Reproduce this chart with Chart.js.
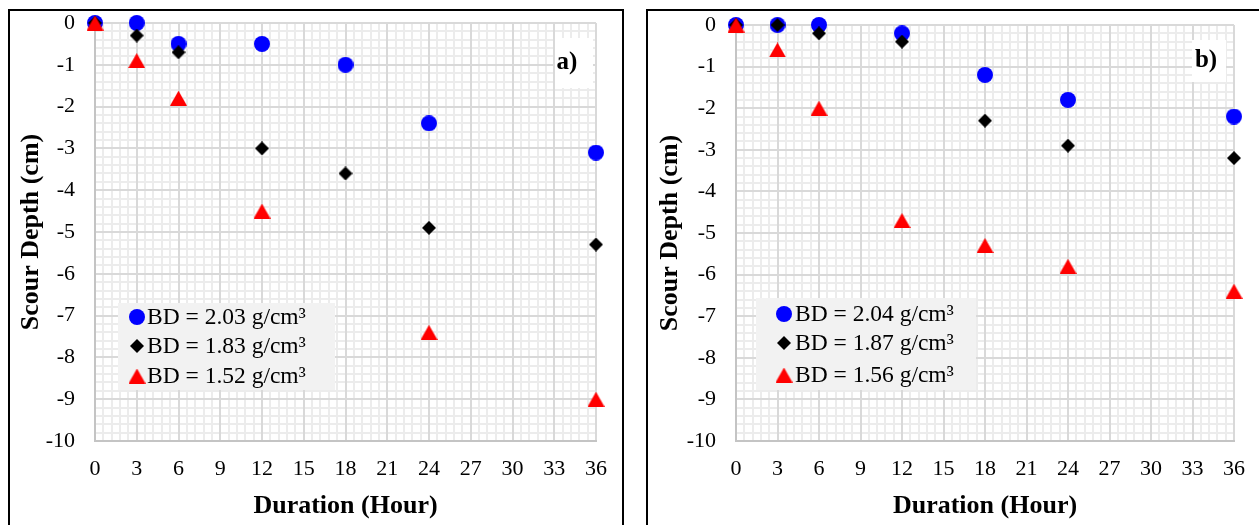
<!DOCTYPE html>
<html><head><meta charset="utf-8">
<script src="https://cdn.jsdelivr.net/npm/chart.js@4/dist/chart.umd.min.js"></script>
<style>
html,body{margin:0;padding:0;background:#fff;width:1259px;height:525px;overflow:hidden;position:relative}
.frame{position:absolute;border:2px solid #000;box-sizing:border-box}
.wrap{position:absolute;top:0;height:525px}
canvas{display:block}
</style></head><body>
<div class="frame" style="left:8px;top:9px;width:616px;height:600px"></div>
<div class="frame" style="left:646px;top:9px;width:700px;height:600px"></div>
<div class="wrap" style="left:0;width:640px"><canvas id="c1" width="640" height="525"></canvas></div>
<div class="wrap" style="left:640px;width:619px"><canvas id="c2" width="619" height="525"></canvas></div>
<script>
// ---- data ----
const xTicks = [0, 3, 6, 9, 12, 15, 18, 21, 24, 27, 30, 33, 36];
const xTickLabels = ['0', '3', '6', '9', '12', '15', '18', '21', '24', '27', '30', '33', '36'];
const yTicks = [-10, -9, -8, -7, -6, -5, -4, -3, -2, -1, 0];
const yTickLabels = ['-10', '-9', '-8', '-7', '-6', '-5', '-4', '-3', '-2', '-1', '0'];

const hours = [0, 3, 6, 12, 18, 24, 36];
const hoursA152 = [0, 3, 6, 12, 24, 36];

const depthA203 = [0, 0, -0.5, -0.5, -1, -2.4, -3.1];
const depthA183 = [0, -0.3, -0.7, -3, -3.6, -4.9, -5.3];
const depthA152 = [0, -0.9, -1.8, -4.5, -7.4, -9];

const depthB204 = [0, 0, 0, -0.2, -1.2, -1.8, -2.2];
const depthB187 = [0, 0, -0.2, -0.4, -2.3, -2.9, -3.2];
const depthB156 = [0, -0.6, -2, -4.7, -5.3, -5.8, -6.4];

const labelsA = ['BD = 2.03 g/cm³', 'BD = 1.83 g/cm³', 'BD = 1.52 g/cm³'];
const labelsB = ['BD = 2.04 g/cm³', 'BD = 1.87 g/cm³', 'BD = 1.56 g/cm³'];

// ---- styling helpers ----
const FONT = "'Liberation Serif', 'Times New Roman', serif";

function markerImage(kind, color) {
  const c = document.createElement('canvas');
  let w, h;
  if (kind === 'circle') { w = 16; h = 16; }
  else if (kind === 'diamond') { w = 14; h = 14; }
  else { w = 17; h = 15; }
  c.width = w; c.height = h;
  const g = c.getContext('2d');
  g.fillStyle = color;
  g.beginPath();
  if (kind === 'circle') g.arc(w / 2, h / 2, w / 2, 0, Math.PI * 2);
  else if (kind === 'diamond') { g.moveTo(w / 2, 0); g.lineTo(w, h / 2); g.lineTo(w / 2, h); g.lineTo(0, h / 2); g.closePath(); }
  else { g.moveTo(w / 2, 0); g.lineTo(w, h); g.lineTo(0, h); g.closePath(); }
  g.fill();
  return c;
}
const mCircle = markerImage('circle', '#0000ff');
const mDiamond = markerImage('diamond', '#000000');
const mTriangle = markerImage('triangle', '#ff0000');

function pts(xs, ys) { return xs.map((x, i) => ({ x: x, y: ys[i] })); }

const minorGrid = {
  id: 'minorGrid',
  beforeDraw(chart) {
    const o = chart.options.plugins.minorGrid;
    const { ctx, chartArea: a, scales: { x, y } } = chart;
    ctx.save();
    ctx.strokeStyle = o.color; ctx.lineWidth = o.width;
    ctx.beginPath();
    for (let i = 0; i < xTicks.length - 1; i++) {
      for (let k = 1; k < o.div; k++) {
        const px = Math.round(x.getPixelForValue(xTicks[i] + (xTicks[i + 1] - xTicks[i]) * k / o.div));
        ctx.moveTo(px, a.top); ctx.lineTo(px, a.bottom);
      }
    }
    for (let i = 0; i < yTicks.length - 1; i++) {
      for (let k = 1; k < o.div; k++) {
        const py = Math.round(y.getPixelForValue(yTicks[i] + (yTicks[i + 1] - yTicks[i]) * k / o.div));
        ctx.moveTo(a.left, py); ctx.lineTo(a.right, py);
      }
    }
    ctx.stroke();
    ctx.restore();
  }
};

const deco = {
  id: 'deco',
  beforeDatasetsDraw(chart) {
    const o = chart.options.plugins.deco;
    const ctx = chart.ctx;
    ctx.save();
    // tag box
    ctx.fillStyle = '#ffffff';
    ctx.fillRect(o.tagBox[0], o.tagBox[1], o.tagBox[2], o.tagBox[3]);
    ctx.fillStyle = '#000';
    ctx.font = "bold 25px " + FONT;
    ctx.textAlign = 'center'; ctx.textBaseline = 'middle';
    ctx.fillText(o.tag, o.tagPos[0], o.tagPos[1]);
    // legend
    const b = o.legendBox;
    ctx.fillStyle = '#f2f2f2';
    ctx.fillRect(b[0], b[1], b[2], b[3]);
    ctx.font = "23.5px " + FONT;
    ctx.textAlign = 'left'; ctx.textBaseline = 'middle';
    ctx.fillStyle = '#000';
    chart.data.datasets.forEach((ds, i) => {
      const img = ds.pointStyle;
      const cy = o.rowsY[i];
      ctx.drawImage(img, o.markerX - img.width / 2, cy - img.height / 2);
      ctx.fillText(ds.label, o.textX, cy + 1);
    });
    ctx.restore();
  }
};

function makeDatasets(labels, xs, ys) {
  const styles = [mCircle, mDiamond, mTriangle];
  const colors = ['#0000ff', '#000000', '#ff0000'];
  return labels.map((lab, i) => ({
    label: lab,
    data: pts(xs[i], ys[i]),
    pointStyle: styles[i],
    backgroundColor: colors[i],
    borderColor: colors[i],
    showLine: false,
    clip: false,
    order: 3 - i
  }));
}

function makeOptions(cfg) {
  return {
    responsive: false,
    animation: false,
    maintainAspectRatio: false,
    layout: { autoPadding: false, padding: { left: 0, top: cfg.top, right: cfg.right, bottom: 0 } },
    scales: {
      x: {
        type: 'linear', min: 0, max: 36,
        afterBuildTicks: s => { s.ticks = xTicks.map(v => ({ value: v })); },
        afterFit: s => { s.height = cfg.xh; s.paddingLeft = 0; s.paddingRight = 0; },
        ticks: {
          callback: v => xTickLabels[xTicks.indexOf(v)],
          font: { family: FONT, size: 22 }, color: '#000', padding: 15,
          maxRotation: 0, autoSkip: false
        },
        grid: { color: '#d9d9d9', lineWidth: 2, drawTicks: false },
        border: { color: '#c4c4c4', width: 2 },
        title: {
          display: true, text: 'Duration (Hour)', color: '#000',
          font: { family: FONT, size: 26, weight: 'bold' },
          padding: { top: 0, bottom: 3 }
        }
      },
      y: {
        type: 'linear', min: -10, max: 0,
        afterBuildTicks: s => { s.ticks = yTicks.map(v => ({ value: v })); },
        afterFit: s => { s.width = cfg.yw; s.paddingTop = 0; s.paddingBottom = 0; },
        ticks: {
          callback: v => yTickLabels[yTicks.indexOf(v)],
          font: { family: FONT, size: 22 }, color: '#000', padding: 20,
          autoSkip: false
        },
        grid: { color: '#d9d9d9', lineWidth: 2, drawTicks: false },
        border: { color: '#c4c4c4', width: 2 },
        title: {
          display: true, text: 'Scour Depth (cm)', color: '#000',
          font: { family: FONT, size: 26, weight: 'bold' },
          padding: { top: cfg.titleX - 15.6, bottom: 0 }
        }
      }
    },
    plugins: {
      legend: { display: false },
      tooltip: { enabled: false },
      minorGrid: { color: '#ececec', width: 2, div: 5 },
      deco: cfg.deco
    },
    elements: { point: { radius: 8, hoverRadius: 8 } }
  };
}

new Chart(document.getElementById('c1'), {
  type: 'scatter',
  data: { datasets: makeDatasets(labelsA, [hours, hours, hoursA152], [depthA203, depthA183, depthA152]) },
  options: makeOptions({
    top: 23, right: 640 - 596, xh: 525 - 441, yw: 95, titleX: 31,
    deco: {
      tag: 'a)', tagPos: [567, 63], tagBox: [555, 38, 38, 50],
      legendBox: [118, 303, 217, 87], markerX: 137, textX: 147, rowsY: [317, 346, 376]
    }
  }),
  plugins: [minorGrid, deco]
});

new Chart(document.getElementById('c2'), {
  type: 'scatter',
  data: { datasets: makeDatasets(labelsB, [hours, hours, hours], [depthB204, depthB187, depthB156]) },
  options: makeOptions({
    top: 25, right: 619 - 594, xh: 525 - 441, yw: 96, titleX: 30,
    deco: {
      tag: 'b)', tagPos: [566, 61], tagBox: [552, 40, 34, 42],
      legendBox: [116, 298, 220, 92], markerX: 144, textX: 155, rowsY: [314, 343, 375]
    }
  }),
  plugins: [minorGrid, deco]
});
</script>
</body></html>
